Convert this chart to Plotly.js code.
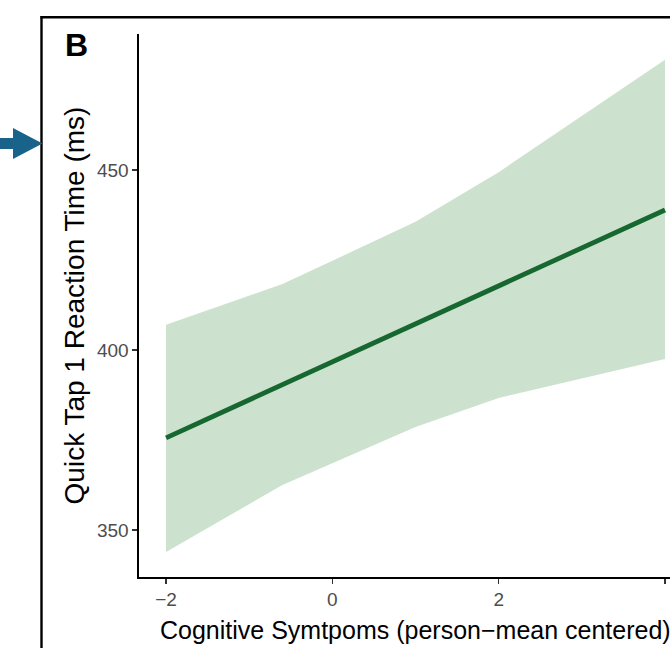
<!DOCTYPE html>
<html>
<head>
<meta charset="utf-8">
<script src="https://cdn.plot.ly/plotly-3.0.1.min.js"></script>
<style>
html, body { margin: 0; padding: 0; background: #ffffff; overflow: hidden; }
#chart { width: 670px; height: 648px; }
</style>
</head>
<body>
<div id="chart"></div>
<script>
// ---- data ----
const ciX = [-2, -0.6, 1, 2, 4];
const ciUpper = [407.0, 418.3, 435.6, 449.4, 480.6];
const ciLower = [343.9, 362.5, 378.6, 386.7, 397.5];
const fitX = [-2, 4];
const fitY = [375.6, 438.9];
const xTickVals = [-2, 0, 2, 4];
const xTickText = ['\u22122', '0', '2', '4'];
const yTickVals = [350, 400, 450];
const yTickText = ['350', '400', '450'];
const xTitle = 'Cognitive Symtpoms (person\u2212mean centered)';
const yTitle = 'Quick Tap 1 Reaction Time (ms)';
const panelLabel = 'B';

// ---- layout geometry (pixels) ----
const W = 670, H = 648;
const M = { l: 139, r: 0, t: 34, b: 71 };
const pw = W - M.l - M.r, ph = H - M.t - M.b;
const px = x => (x - M.l) / pw;
const py = y => (H - M.b - y) / ph;

const FONT = 'Liberation Sans, Arial, Helvetica, sans-serif';

const traces = [
  { x: ciX, y: ciLower, type: 'scatter', mode: 'lines', line: { width: 0, color: 'rgba(0,0,0,0)' },
    hoverinfo: 'skip', showlegend: false },
  { x: ciX, y: ciUpper, type: 'scatter', mode: 'lines', line: { width: 0, color: 'rgba(0,0,0,0)' },
    fill: 'tonexty', fillcolor: 'rgb(205,226,206)', hoverinfo: 'skip', showlegend: false },
  { x: fitX, y: fitY, type: 'scatter', mode: 'lines', line: { width: 4.8, color: 'rgb(22,104,48)' },
    showlegend: false }
];

const arrowPath = [
  [0, 138], [13, 138], [13, 128], [42.5, 143.5], [13, 159], [13, 149], [0, 149]
].map((p, i) => (i === 0 ? 'M' : 'L') + px(p[0]).toFixed(5) + ',' + py(p[1]).toFixed(5)).join(' ') + ' Z';

const layout = {
  width: W, height: H,
  margin: M,
  paper_bgcolor: '#ffffff', plot_bgcolor: '#ffffff',
  font: { family: FONT, color: '#000000' },
  showlegend: false,
  xaxis: {
    range: [-2 - 27 / 83, 4 + 5 / 83],
    tickvals: xTickVals, ticktext: xTickText,
    showgrid: false, zeroline: false,
    showline: true, linecolor: '#000000', linewidth: 1.6,
    ticks: 'outside', ticklen: 5, tickwidth: 1.3, tickcolor: '#333333',
    tickfont: { family: FONT, size: 19, color: '#4d4d4d' },
    fixedrange: true
  },
  yaxis: {
    range: [350 - 47 / 3.6, 450 + 136 / 3.6],
    tickvals: yTickVals, ticktext: yTickText,
    showgrid: false, zeroline: false,
    showline: true, linecolor: '#000000', linewidth: 1.6,
    ticks: 'outside', ticklen: 5, tickwidth: 1.3, tickcolor: '#333333',
    tickfont: { family: FONT, size: 19, color: '#4d4d4d' },
    title: { text: yTitle, font: { family: FONT, size: 28, color: '#000000' }, standoff: 4 },
    fixedrange: true
  },
  annotations: [
    { text: xTitle, xref: 'paper', yref: 'paper', x: px(415), y: py(630),
      xanchor: 'center', yanchor: 'middle', showarrow: false,
      font: { family: FONT, size: 25, color: '#000000' } },
    { text: '<b>' + panelLabel + '</b>', xref: 'paper', yref: 'paper', x: px(76), y: py(45),
      xanchor: 'center', yanchor: 'middle', showarrow: false,
      font: { family: FONT, size: 32, color: '#000000' } }
  ],
  shapes: [
    { type: 'line', xref: 'paper', yref: 'paper', x0: px(41.5), x1: px(41.5), y0: py(16), y1: py(650),
      line: { color: '#000000', width: 2.4 } },
    { type: 'line', xref: 'paper', yref: 'paper', x0: px(40.5), x1: px(672), y0: py(17.3), y1: py(17.3),
      line: { color: '#000000', width: 2.4 } },
    { type: 'path', xref: 'paper', yref: 'paper', path: arrowPath,
      fillcolor: '#19628a', line: { width: 0 } }
  ]
};

Plotly.newPlot('chart', traces, layout, { displayModeBar: false, staticPlot: true });
</script>
</body>
</html>
